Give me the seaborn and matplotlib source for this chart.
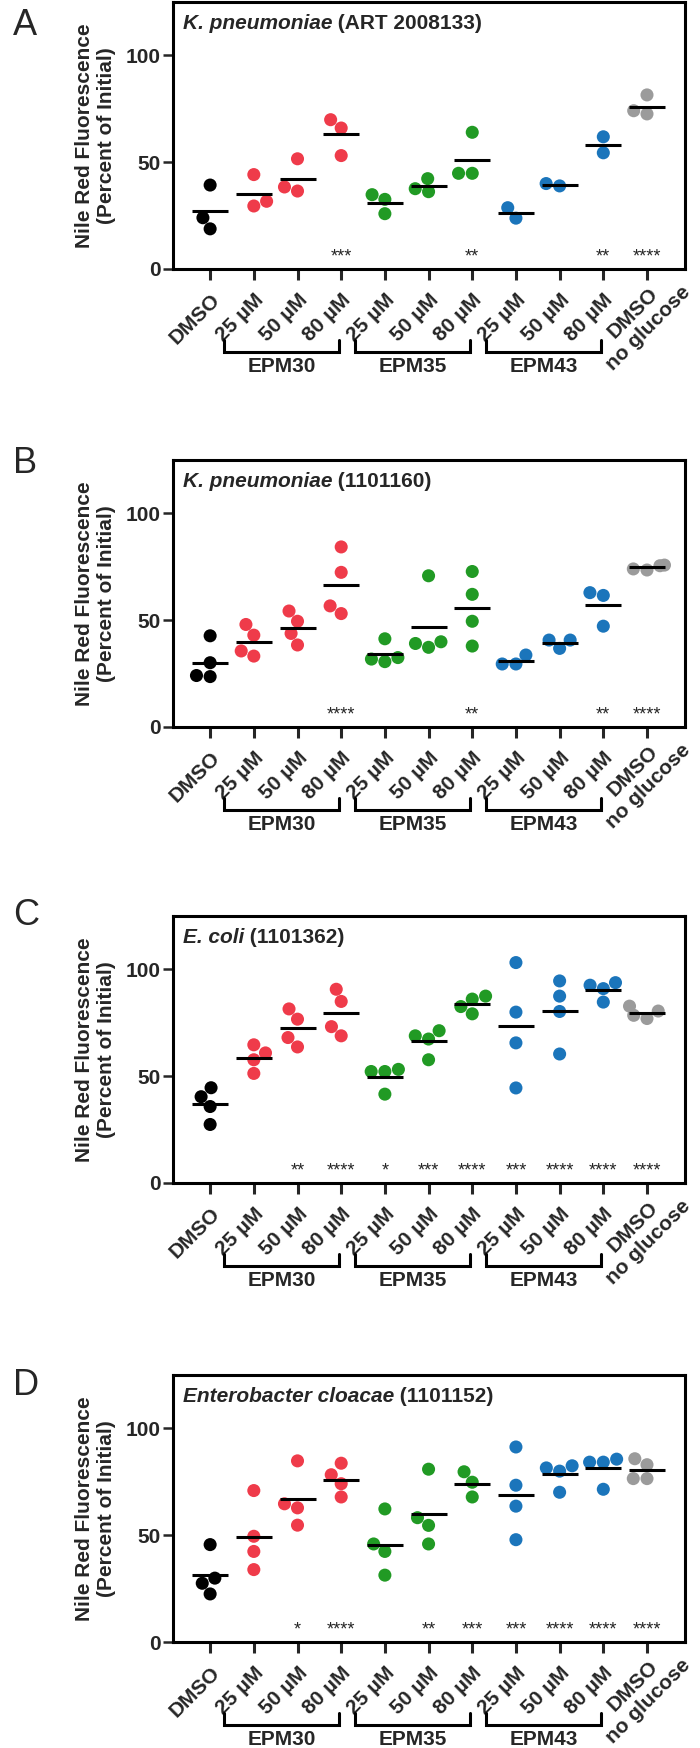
import matplotlib
matplotlib.use("Agg")
import matplotlib.pyplot as plt
import matplotlib.transforms as mtransforms
import pandas as pd
import seaborn as sns

# categories, left to right
conditions = ["DMSO", "EPM30 25", "EPM30 50", "EPM30 80", "EPM35 25", "EPM35 50", "EPM35 80",
              "EPM43 25", "EPM43 50", "EPM43 80", "DMSO no glucose"]
tick_labels = ["DMSO", "25 µM", "50 µM", "80 µM", "25 µM", "50 µM", "80 µM",
               "25 µM", "50 µM", "80 µM", "DMSO\nno glucose"]
groups = ["EPM30", "EPM35", "EPM43"]
group_members = [[1, 2, 3], [4, 5, 6], [7, 8, 9]]
colours = ["#000000", "#EF3B4A", "#EF3B4A", "#EF3B4A", "#219A24", "#219A24", "#219A24",
           "#1B75BB", "#1B75BB", "#1B75BB", "#9B9B9B"]

panel_letters = ["A", "B", "C", "D"]
species = ["K. pneumoniae", "K. pneumoniae", "E. coli", "Enterobacter cloacae"]
strains = ["(ART 2008133)", "(1101160)", "(1101362)", "(1101152)"]

# Nile red fluorescence, percent of initial, one list per condition
panel_a = [
    [39.3, 18.8, 24.0],
    [44.2, 29.5, 31.7],
    [51.6, 36.5, 38.4],
    [69.9, 66.0, 53.1],
    [34.8, 25.9, 32.6],
    [42.3, 36.2, 37.6],
    [64.0, 44.8, 44.8],
    [23.8, 28.7],
    [38.9, 40.0],
    [54.4, 61.9],
    [81.5, 72.6, 74.1],
]
panel_a_stars = ["", "", "", "***", "", "", "**", "", "", "**", "****"]

panel_b = [
    [42.7, 30.1, 23.6, 24.1],
    [48.0, 33.2, 35.6, 43.0],
    [54.3, 38.4, 43.8, 49.5],
    [84.3, 72.4, 53.1, 56.7],
    [41.3, 32.5, 30.6, 31.8],
    [70.8, 39.9, 37.3, 39.1],
    [72.8, 62.1, 49.5, 37.9],
    [33.7, 29.5, 29.5],
    [40.7, 36.8, 40.7],
    [62.9, 61.6, 47.2],
    [75.5, 74.0, 75.8, 73.5],
]
panel_b_stars = ["", "", "", "****", "", "", "**", "", "", "**", "****"]

panel_c = [
    [44.6, 27.4, 35.8, 40.4],
    [64.7, 51.3, 57.7, 60.9],
    [81.5, 63.7, 68.1, 76.7],
    [90.7, 85.0, 68.9, 73.2],
    [52.2, 52.2, 53.2, 41.6],
    [68.9, 71.3, 67.4, 57.7],
    [86.1, 87.5, 82.6, 79.2],
    [103.2, 80.0, 65.6, 44.5],
    [94.6, 87.5, 80.3, 60.4],
    [92.6, 93.8, 91.0, 84.7],
    [82.8, 80.5, 77.0, 78.5],
]
panel_c_stars = ["", "", "**", "****", "*", "***", "****", "***", "****", "****", "****"]

panel_d = [
    [45.6, 29.9, 27.5, 22.5],
    [70.9, 49.5, 42.4, 33.9],
    [84.8, 64.7, 62.8, 54.7],
    [83.7, 78.3, 74.1, 67.9],
    [62.3, 45.9, 42.4, 31.3],
    [80.9, 58.2, 54.6, 45.9],
    [79.7, 74.8, 67.9],
    [91.3, 73.4, 63.6, 47.9],
    [81.5, 80.0, 82.5, 70.1],
    [84.2, 84.2, 85.6, 71.5],
    [85.8, 83.0, 76.5, 76.5],
]
panel_d_stars = ["", "", "*", "****", "", "**", "***", "***", "****", "****", "****"]


def to_frame(values):
    rows = []
    for cond, vals in zip(conditions, values):
        for v in vals:
            rows.append({"condition": cond, "value": v})
    return pd.DataFrame(rows)


def draw_panel(fig, ax, values, stars, name, strain):
    df = to_frame(values)
    sns.swarmplot(data=df, x="condition", y="value", hue="condition", order=conditions,
                  hue_order=conditions, palette=colours, size=9.4, linewidth=0,
                  legend=False, ax=ax, zorder=3)
    # mean line per condition
    sns.pointplot(data=df, x="condition", y="value", order=conditions, estimator="mean",
                  errorbar=None, color="black", marker="_", markersize=26,
                  markeredgewidth=2.2, linestyle="none", ax=ax, zorder=5)

    ax.set_xlim(-0.85, 10.87)
    ax.set_ylim(0, 125)
    ax.set_yticks([0, 50, 100])
    ax.set_xticks(range(len(conditions)))
    ax.tick_params(axis="x", length=8, width=2.2, pad=7, direction="out")
    ax.tick_params(axis="y", length=7, width=1.8, pad=2, direction="out", labelsize=15)
    ax.set_xticklabels(tick_labels, rotation=45, ha="right", va="top",
                       rotation_mode="anchor", fontsize=15, fontweight="bold")
    for lab in ax.get_yticklabels():
        lab.set_fontweight("bold")
    last = ax.get_xticklabels()[-1]
    last.set_multialignment("center")
    last.set_transform(last.get_transform() +
                       mtransforms.ScaledTranslation(0.18, 0.23, fig.dpi_scale_trans))

    for side in ["left", "right", "top", "bottom"]:
        ax.spines[side].set_linewidth(2.2)
        ax.spines[side].set_color("black")

    ax.set_xlabel("")
    ax.set_ylabel("Nile Red Fluorescence\n(Percent of Initial)", fontsize=15,
                  fontweight="bold", va="center")
    ax.yaxis.set_label_coords(-0.152, 0.5)

    for i, s in enumerate(stars):
        if s:
            ax.text(i, 5.5, s, ha="center", va="center", fontsize=13)

    # group brackets under the tick labels
    trans = mtransforms.blended_transform_factory(ax.transData, ax.transAxes)
    for g, members in zip(groups, group_members):
        x0 = members[0] - 0.68
        x1 = members[-1] - 0.05
        ax.plot([x0, x0, x1, x1], [-0.266, -0.311, -0.311, -0.266], color="black",
                lw=2.2, transform=trans, clip_on=False, solid_joinstyle="miter")
        ax.text((x0 + x1) / 2, -0.367, g, transform=trans, ha="center", va="center",
                fontsize=15, fontweight="bold")

    t1 = ax.text(0.0195, 0.899, name, transform=ax.transAxes, fontsize=15,
                 fontweight="bold", style="italic", va="baseline")
    ax.annotate(" " + strain, xy=(1, 0), xycoords=t1, va="bottom", ha="left",
                fontsize=15, fontweight="bold")


if __name__ == "__main__":
    sns.set_style("ticks")
    plt.rcParams["font.family"] = ["Liberation Sans", "DejaVu Sans"]

    W, H = 700, 1748
    fig = plt.figure(figsize=(W / 100, H / 100), dpi=100)

    all_values = [panel_a, panel_b, panel_c, panel_d]
    all_stars = [panel_a_stars, panel_b_stars, panel_c_stars, panel_d_stars]
    # pixel rows of the zero line and of the letter baseline, from the top
    zero_rows = [269, 727, 1183, 1642]
    letter_rows = [35, 473, 925, 1395]

    for k in range(4):
        ax = fig.add_axes([173 / W, 1 - zero_rows[k] / H, 512 / W, 267 / H])
        draw_panel(fig, ax, all_values[k], all_stars[k], species[k], strains[k])
        fig.text(13 / W, 1 - letter_rows[k] / H, panel_letters[k], fontsize=26,
                 ha="left", va="baseline")

    fig.savefig("out.png", dpi=100)
